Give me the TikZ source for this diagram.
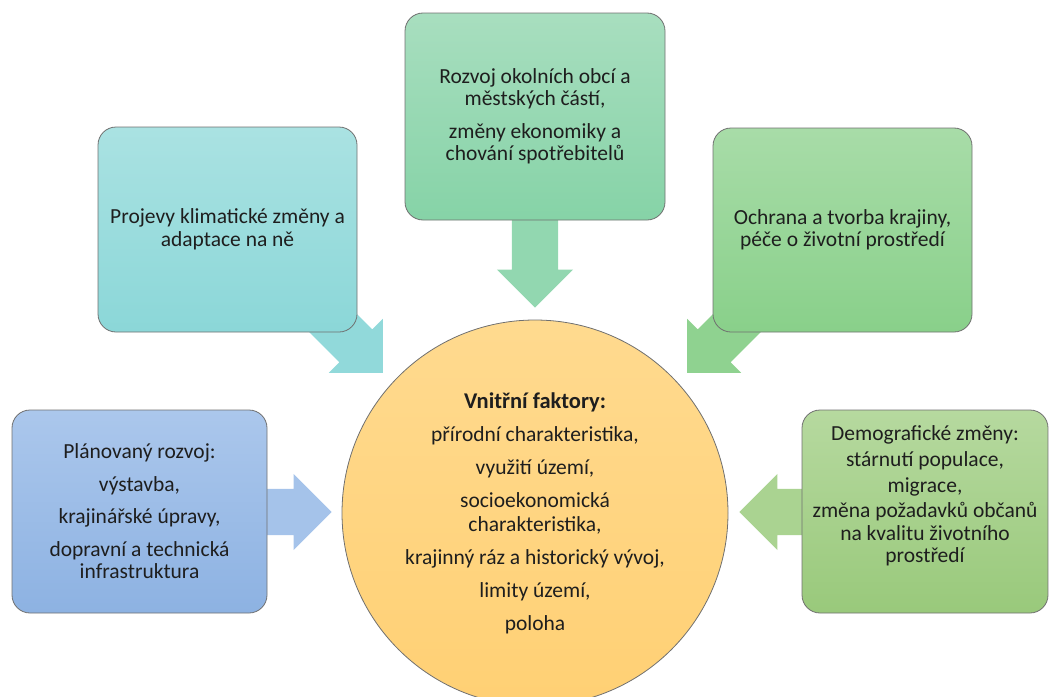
\documentclass[tikz,border=0pt]{standalone}
\usepackage{fontspec}
\setmainfont{Carlito}
\usepackage{xcolor}
\usepackage{tikz}
\usetikzlibrary{positioning, shapes.arrows}

\definecolor{tealtop}{HTML}{AAE2E2}
\definecolor{tealbot}{HTML}{8BD7D8}
\definecolor{minttop}{HTML}{A8DEBF}
\definecolor{mintbot}{HTML}{86D3A7}
\definecolor{leaftop}{HTML}{A8DCA8}
\definecolor{leafbot}{HTML}{89D08A}
\definecolor{skytop}{HTML}{ABC7EC}
\definecolor{skybot}{HTML}{8DB2E2}
\definecolor{olivetop}{HTML}{B6D99F}
\definecolor{olivebot}{HTML}{99C97B}
\definecolor{suntop}{HTML}{FFDA8F}
\definecolor{sunbot}{HTML}{FFD074}
\definecolor{edge}{HTML}{707070}
\definecolor{ink}{HTML}{1E1E1E}

\begin{document}
\begin{tikzpicture}[x=1pt, y=-1pt]

  \tikzstyle{factor}=[rounded corners=18pt, draw=edge, line width=0.8pt, text=ink,
    align=center, inner sep=6pt, font=\fontsize{21.5}{22.5}\selectfont]
  \tikzstyle{flow}=[single arrow, single arrow head extend=15pt,
    single arrow tip angle=90, single arrow head indent=0pt,
    inner sep=23pt, anchor=tip]

  \useasboundingbox (0,0) rectangle (1049,696);

  % arrows first, boxes cover their tails
  \node [flow, fill=tealbot!95!white, rotate=-45, minimum height=120pt] (arr-climate) at (383,373) {};
  \node [flow, fill=mintbot!90!white, rotate=-90, minimum height=95pt] (arr-towns) at (535,308) {};
  \node [flow, fill=leafbot!95!white, rotate=-135, minimum height=120pt] (arr-landscape) at (687,373) {};
  \node [flow, fill=skytop!80!skybot, rotate=0, minimum height=75pt] (arr-planned) at (332,512) {};
  \node [flow, fill=olivetop!60!olivebot, rotate=180, minimum height=75pt] (arr-demo) at (739,512) {};

  \node [factor, top color=tealtop, bottom color=tealbot,
    minimum width=259pt, minimum height=205pt] (climate) at (227.5,229.5)
    {Projevy klimatické změny a\\adaptace na ně};
  \node [factor, top color=minttop, bottom color=mintbot,
    minimum width=260pt, minimum height=207pt] (towns) at (535,116.5)
    {Rozvoj okolních obcí a\\městských částí,\\[10pt]změny ekonomiky a\\chování spotřebitelů};
  \node [factor, top color=leaftop, bottom color=leafbot,
    minimum width=259pt, minimum height=204pt] (landscape) at (842.5,230)
    {Ochrana a tvorba krajiny,\\péče o životní prostředí};
  \node [factor, top color=skytop, bottom color=skybot,
    minimum width=255pt, minimum height=203pt] (planned) at (139.5,511.5)
    {Plánovaný rozvoj:\\[10pt]výstavba,\\[10pt]krajinářské úpravy,\\[10pt]dopravní a technická\\infrastruktura};
  \node [factor, top color=olivetop, bottom color=olivebot,
    minimum width=246pt, minimum height=203pt] (demo) at (925,511.5)
    {Demografické změny:\\[4pt]stárnutí populace,\\[3pt]migrace,\\[3pt]změna požadavků občanů\\na kvalitu životního\\prostředí\\[12pt]\mbox{}};

  \node [circle, draw=edge, line width=0.8pt, top color=suntop, bottom color=sunbot,
    minimum size=386pt, align=center, text=ink, font=\fontsize{21.5}{24}\selectfont] (core) at (535,513)
    {{\fontsize{22.5}{24}\selectfont\bfseries Vnitřní faktory:}\\[9pt]přírodní charakteristika,\\[9pt]využití území,\\[9pt]socioekonomická\\charakteristika,\\[9pt]krajinný ráz a historický vývoj,\\[9pt]limity území,\\[9pt]poloha};

\end{tikzpicture}
\end{document}
